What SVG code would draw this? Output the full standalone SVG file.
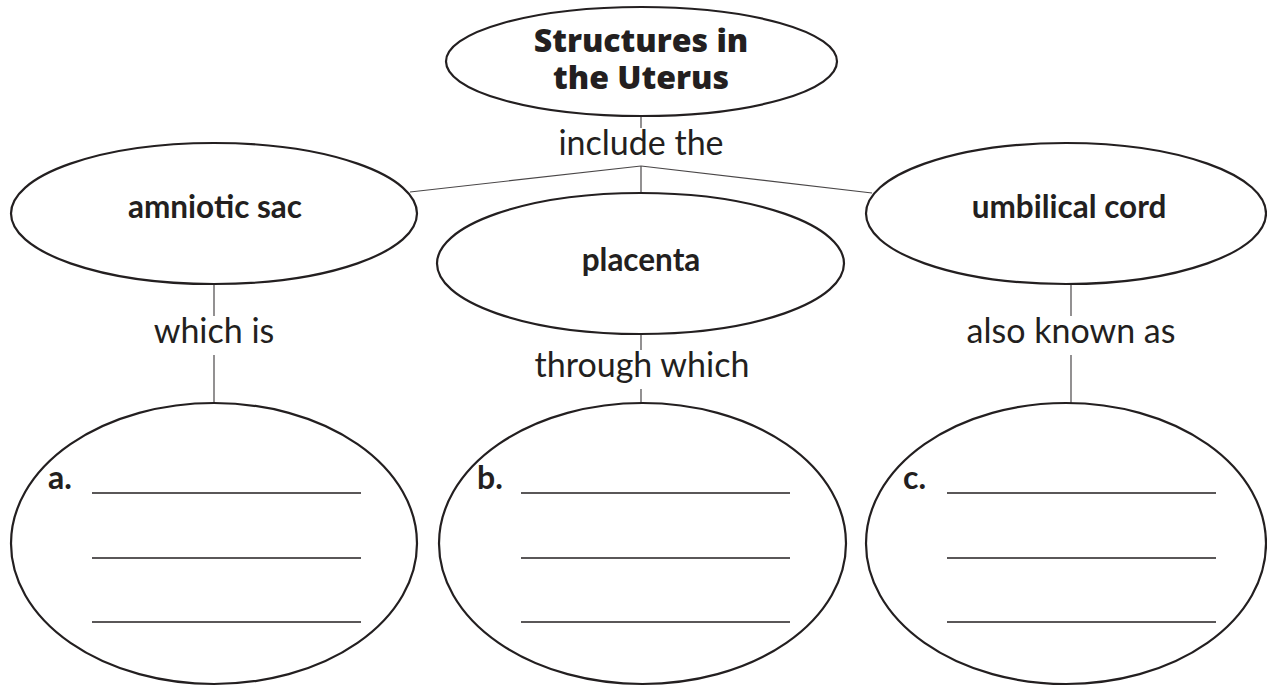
<svg xmlns="http://www.w3.org/2000/svg" width="1267" height="687" viewBox="0 0 1267 687">
<style>
.node{fill:#fff;stroke:#231f20;stroke-width:2.2}
.conn{stroke:#4a4748;stroke-width:1.2;fill:none}
.blank{stroke:#231f20;stroke-width:1.5}
.lbl{font-family:Lato,"Liberation Sans",sans-serif;font-size:34px;fill:#231f20;text-anchor:middle}
.nt{font-family:Lato,"Liberation Sans",sans-serif;font-size:31.5px;font-weight:bold;fill:#231f20;text-anchor:middle}
.tt{font-family:"Open Sans","Liberation Sans",sans-serif;font-size:32px;font-weight:800;fill:#231f20;text-anchor:middle}
.let{font-family:Lato,"Liberation Sans",sans-serif;font-size:32px;font-weight:bold;fill:#231f20}
</style>
<rect width="1267" height="687" fill="#fff"/>
<g id="connectors">
<line class="conn" x1="641" y1="116" x2="641" y2="128"/>
<line class="conn" x1="641" y1="166" x2="410" y2="192"/>
<line class="conn" x1="641" y1="166" x2="872" y2="193"/>
<line class="conn" x1="641" y1="166" x2="641" y2="193"/>
<line class="conn" x1="214" y1="284" x2="214" y2="316"/>
<line class="conn" x1="214" y1="355" x2="214" y2="403"/>
<line class="conn" x1="641" y1="334" x2="641" y2="350"/>
<line class="conn" x1="641" y1="389" x2="641" y2="403"/>
<line class="conn" x1="1071" y1="284" x2="1071" y2="316"/>
<line class="conn" x1="1071" y1="355" x2="1071" y2="403"/>
<text class="lbl" x="641" y="155">include the</text>
<text class="lbl" x="214" y="343">which is</text>
<text class="lbl" x="642" y="377">through which</text>
<text class="lbl" x="1071" y="343">also known as</text>
</g>
<g id="structures">
<ellipse class="node" cx="641.5" cy="61.5" rx="195.5" ry="54.5"/>
<text class="tt" x="641" y="52">Structures in<tspan x="641" y="89">the Uterus</tspan></text>
</g>
<g id="amniotic">
<ellipse class="node" cx="214" cy="213.5" rx="203" ry="70.5"/>
<text class="nt" x="215" y="218">amniotic sac</text>
</g>
<g id="placenta">
<ellipse class="node" cx="640.5" cy="263.5" rx="203.5" ry="70.5"/>
<text class="nt" x="641" y="271">placenta</text>
</g>
<g id="umbilical">
<ellipse class="node" cx="1066" cy="213.5" rx="200" ry="70.5"/>
<text class="nt" x="1069" y="218">umbilical cord</text>
</g>
<g id="answer-a">
<ellipse class="node" cx="214" cy="543.5" rx="203" ry="140.5"/>
<text class="let" x="48" y="489">a.</text>
<line class="blank" x1="92" y1="493" x2="361" y2="493"/>
<line class="blank" x1="92" y1="558" x2="361" y2="558"/>
<line class="blank" x1="92" y1="622" x2="361" y2="622"/>
</g>
<g id="answer-b">
<ellipse class="node" cx="642.5" cy="543.5" rx="203.5" ry="140.5"/>
<text class="let" x="477" y="489">b.</text>
<line class="blank" x1="521" y1="493" x2="790" y2="493"/>
<line class="blank" x1="521" y1="558" x2="790" y2="558"/>
<line class="blank" x1="521" y1="622" x2="790" y2="622"/>
</g>
<g id="answer-c">
<ellipse class="node" cx="1066" cy="543.5" rx="200" ry="140.5"/>
<text class="let" x="903" y="489">c.</text>
<line class="blank" x1="947" y1="493" x2="1216" y2="493"/>
<line class="blank" x1="947" y1="558" x2="1216" y2="558"/>
<line class="blank" x1="947" y1="622" x2="1216" y2="622"/>
</g>
</svg>
